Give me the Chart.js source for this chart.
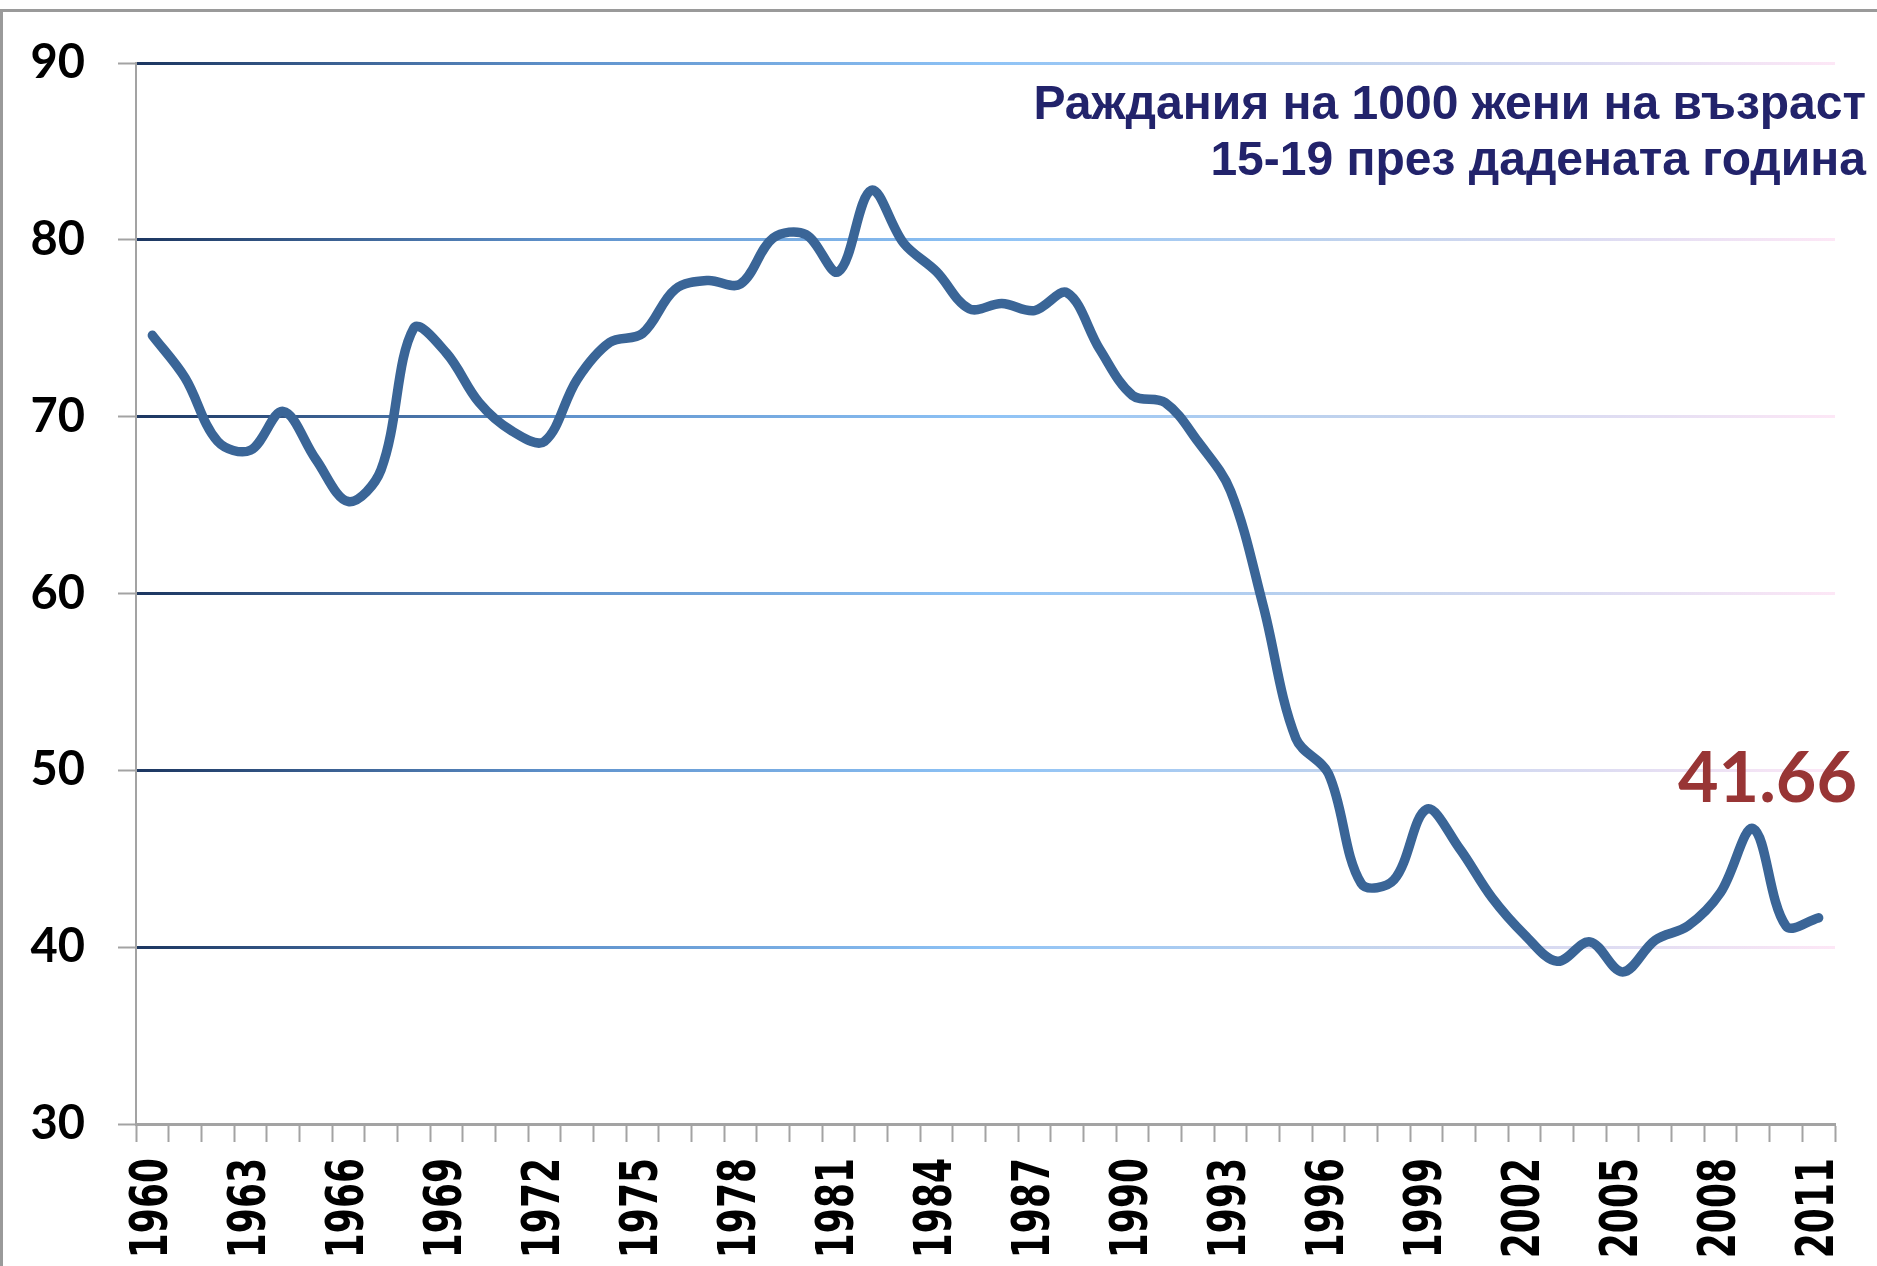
<!DOCTYPE html>
<html>
<head>
<meta charset="utf-8">
<script src="https://cdn.jsdelivr.net/npm/chart.js@4.4.1/dist/chart.umd.min.js"></script>
<style>
  html, body { margin: 0; padding: 0; background: #fff; }
  body { width: 1877px; height: 1266px; position: relative; overflow: hidden; }
  #chart { position: absolute; left: 0; top: 0; }
  .frame {
    position: absolute; left: 0; top: 9px; width: 1877px; height: 1257px;
    border-top: 3px solid #9a9a9a; border-left: 3px solid #9a9a9a;
    box-sizing: border-box; pointer-events: none;
  }
  .title {
    position: absolute; right: 11px; top: 75px;
    font: bold 48px "Liberation Sans", Arial, sans-serif;
    line-height: 56px; color: #22236b; text-align: right;
  }
  .last {
    position: absolute; right: 20px; top: 740px;
    font: bold 70px Lato, sans-serif; line-height: 70px; color: #983535;
  }
</style>
</head>
<body>
<canvas id="chart" width="1877" height="1266"></canvas>
<div class="frame"></div>
<div class="title">Раждания на 1000 жени на възраст<br>15-19 през дадената година</div>
<div class="last">41.66</div>
<script>
// Births per 1000 women aged 15-19, 1960-2011
const years = [
  '1960', '1961', '1962', '1963', '1964', '1965', '1966', '1967', '1968', '1969',
  '1970', '1971', '1972', '1973', '1974', '1975', '1976', '1977', '1978', '1979',
  '1980', '1981', '1982', '1983', '1984', '1985', '1986', '1987', '1988', '1989',
  '1990', '1991', '1992', '1993', '1994', '1995', '1996', '1997', '1998', '1999',
  '2000', '2001', '2002', '2003', '2004', '2005', '2006', '2007', '2008', '2009',
  '2010', '2011',
]
const birthRate = [
  74.6, 72.2, 68.6, 68.1, 70.3, 67.6, 65.2, 67.0, 75.0, 73.6,
  70.8, 69.2, 68.6, 72.1, 74.2, 74.7, 77.2, 77.7, 77.5, 80.1,
  80.3, 78.2, 82.8, 79.8, 78.2, 76.1, 76.4, 76.0, 77.0, 73.8,
  71.2, 70.8, 68.6, 65.8, 59.3, 51.8, 49.8, 43.6, 43.8, 47.8,
  45.6, 42.8, 40.7, 39.2, 40.3, 38.6, 40.4, 41.2, 43.1, 46.7,
  41.2, 41.66,
]
const yMin = 30
const yMax = 90
const yStep = 10
const labelEvery = 3

const AXIS_GREY = '#a3a3a3'

// horizontal gridlines fade navy -> light blue -> pink across the plot
function gridGradient(chart) {
  const a = chart.chartArea
  if (!a) return '#8ec3f6'
  const g = chart.ctx.createLinearGradient(a.left, 0, a.right, 0)
  g.addColorStop(0, '#1c3660')
  g.addColorStop(0.25, '#5f92cc')
  g.addColorStop(0.5, '#8ec3f6')
  g.addColorStop(0.72, '#c2d3ed')
  g.addColorStop(0.86, '#dddcf2')
  g.addColorStop(1, '#fde7f6')
  return g
}

// rotated year labels, drawn a bit wider than the font normally is
const yearLabels = {
  id: 'yearLabels',
  afterDraw(chart) {
    const xs = chart.scales.x
    const ctx = chart.ctx
    ctx.save()
    ctx.font = 'bold 36px "DejaVu Sans"'
    ctx.fillStyle = '#000'
    ctx.textAlign = 'right'
    ctx.textBaseline = 'middle'
    years.forEach((y, i) => {
      if (i % labelEvery !== 0) return
      ctx.save()
      ctx.translate(xs.getPixelForValue(i) + 1, xs.bottom - 108)
      ctx.rotate(-Math.PI / 2)
      ctx.scale(1, 1.42)
      ctx.fillText(y, 0, 0)
      ctx.restore()
    })
    ctx.restore()
  },
}

new Chart(document.getElementById('chart'), {
  type: 'line',
  data: {
    labels: years,
    datasets: [{
      data: birthRate,
      borderColor: '#3a6597',
      borderWidth: 9.5,
      borderCapStyle: 'round',
      borderJoinStyle: 'round',
      pointRadius: 0,
      tension: 0.35,
      fill: false,
    }],
  },
  options: {
    responsive: false,
    animation: false,
    devicePixelRatio: 1,
    layout: { padding: { top: 63, right: 42, left: 0, bottom: 0 } },
    plugins: { legend: { display: false }, tooltip: { enabled: false } },
    scales: {
      x: {
        offset: true,
        border: { color: AXIS_GREY, width: 3 },
        grid: {
          offset: true,
          drawOnChartArea: false,
          tickLength: 18,
          tickColor: AXIS_GREY,
          tickWidth: 2,
        },
        ticks: { display: false, autoSkip: false },
        afterFit(scale) { scale.height = 142 },
      },
      y: {
        min: yMin,
        max: yMax,
        border: { color: AXIS_GREY, width: 2 },
        grid: {
          color: ctx => (ctx.tick && ctx.tick.value === yMin ? 'rgba(0,0,0,0)' : gridGradient(ctx.chart)),
          lineWidth: 3,
          tickLength: 18,
          tickColor: AXIS_GREY,
          tickWidth: 2,
        },
        ticks: {
          stepSize: yStep,
          padding: 33,
          color: '#000',
          font: { family: 'Lato', weight: 'bold', size: 47 },
        },
        afterFit(scale) { scale.width = 136 },
      },
    },
  },
  plugins: [yearLabels],
})
</script>
</body>
</html>
